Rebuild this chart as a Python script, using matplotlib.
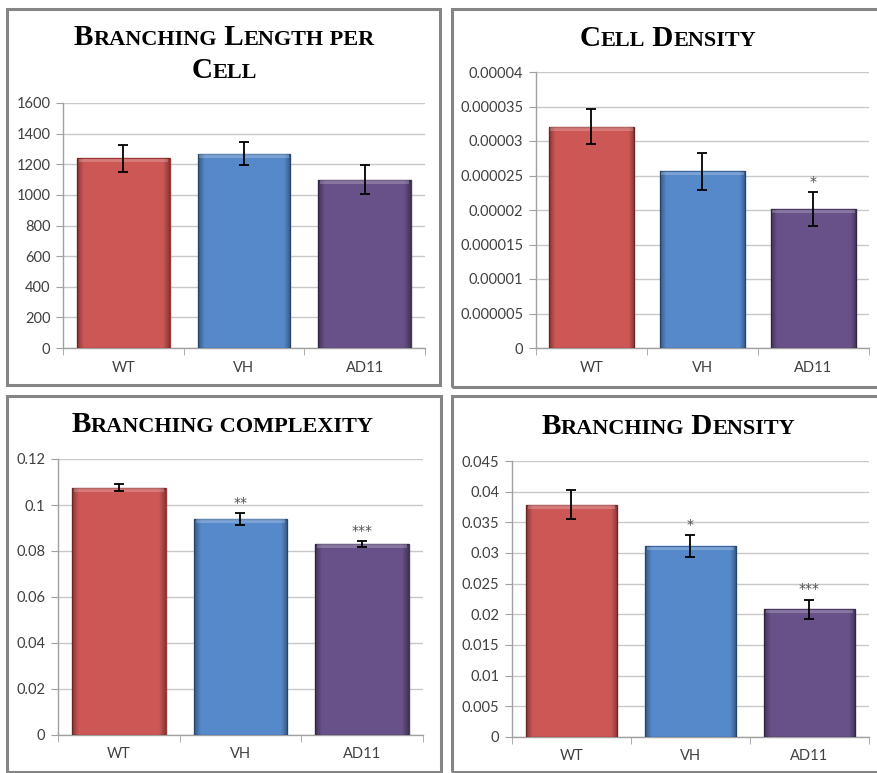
import matplotlib
matplotlib.use("Agg")
import matplotlib.pyplot as plt
import numpy as np
from matplotlib.patches import Rectangle
from matplotlib.offsetbox import TextArea, HPacker, VPacker, AnchoredOffsetbox
from matplotlib.ticker import FuncFormatter, MultipleLocator

W, H = 878, 773
fig = plt.figure(figsize=(W / 100, H / 100), dpi=100)

groups = ["WT", "VH", "AD11"]
colors = ["#cd5755", "#5689ca", "#685188"]
edges = ["#9e3b39", "#3b68a0", "#4b3866"]

# branching length per cell
length_vals = [1240, 1268, 1100]
length_err = [88, 75, 95]
length_stars = ["", "", ""]

# cell density
cell_vals = [3.21e-5, 2.56e-5, 2.01e-5]
cell_err = [2.6e-6, 2.65e-6, 2.45e-6]
cell_stars = ["", "", "*"]

# branching complexity
cplx_vals = [0.1075, 0.0940, 0.0831]
cplx_err = [0.0015, 0.0025, 0.0012]
cplx_stars = ["", "**", "***"]

# branching density
bdens_vals = [0.0379, 0.0311, 0.0208]
bdens_err = [0.0024, 0.0018, 0.0016]
bdens_stars = ["", "*", "***"]

TICK = "#404040"


def fmt(v, pos):
    if abs(v) < 1e-12:
        return "0"
    return "{:.6f}".format(v).rstrip("0").rstrip(".")


def px_rect(x0, y0, x1, y1):
    return [x0 / W, 1 - y1 / H, (x1 - x0) / W, (y1 - y0) / H]


def frame(x0, y0, x1, y1):
    fig.patches.append(Rectangle((x0 / W, 1 - y1 / H), (x1 - x0) / W, (y1 - y0) / H,
                                 transform=fig.transFigure, fill=False,
                                 edgecolor="#858585", linewidth=2.2))


def smallcaps(words, big=21, small=16):
    parts = []
    for i, w in enumerate(words):
        txt = w if i == 0 else " " + w
        props = dict(family="Liberation Serif", weight="bold", color="black")
        if w[0].isupper():
            lead = txt[:txt.index(w[0]) + 1]
            rest = txt[len(lead):]
            parts.append(TextArea(lead, textprops=dict(props, size=big)))
            if rest:
                parts.append(TextArea(rest.upper(), textprops=dict(props, size=small)))
        else:
            parts.append(TextArea(txt.upper(), textprops=dict(props, size=small)))
    return HPacker(children=parts, align="baseline", pad=0, sep=0)


def title(lines, cx, cy):
    rows = [smallcaps(l) for l in lines]
    box = rows[0] if len(rows) == 1 else VPacker(children=rows, align="center", pad=0, sep=5)
    ab = AnchoredOffsetbox(loc="center", child=box, bbox_to_anchor=(cx / W, 1 - cy / H),
                           bbox_transform=fig.transFigure, frameon=False, pad=0, borderpad=0)
    fig.add_artist(ab)


# bevel-like shading overlay (horizontal darkening at edges)
nx = 120
u = np.linspace(0, 1, nx)
edge_a = np.clip(1 - np.minimum(u, 1 - u) / 0.07, 0, 1) * 0.35
shade = np.zeros((1, nx, 4))
shade[0, :, 3] = edge_a


def panel(rect, vals, errs, stars, ymax, step):
    ax = fig.add_axes(px_rect(*rect))
    axh = rect[3] - rect[1]
    x = np.arange(len(groups))
    bars = ax.bar(x, vals, width=0.77, color=colors, edgecolor=edges, linewidth=1.0, zorder=3)
    for b in bars:
        x0, w, h = b.get_x(), b.get_width(), b.get_height()
        im = ax.imshow(shade, extent=(x0, x0 + w, 0, h), aspect="auto", zorder=3.1,
                       interpolation="bilinear")
        im.set_clip_path(b)
        hl = ymax * 4.0 / axh
        ax.add_patch(Rectangle((x0 + w * 0.02, h - hl), w * 0.96, hl * 0.9,
                               facecolor="white", alpha=0.22, linewidth=0, zorder=3.2))
    ax.errorbar(x, vals, yerr=errs, fmt="none", ecolor="black", elinewidth=1.3,
                capsize=3.5, capthick=1.3, zorder=4)
    for xi, v, e, s in zip(x, vals, errs, stars):
        if s:
            ax.text(xi, v + e + ymax * 0.012, s, ha="center", va="bottom",
                    fontsize=10, color="#505050", family="DejaVu Sans")
    ax.set_xlim(-0.5, 2.5)
    ax.set_ylim(0, ymax)
    ax.yaxis.set_major_locator(MultipleLocator(step))
    ax.yaxis.set_major_formatter(FuncFormatter(fmt))
    ax.grid(axis="y", color="#c8c8c8", linewidth=1, zorder=0)
    ax.set_axisbelow(True)
    for s in ["top", "right"]:
        ax.spines[s].set_visible(False)
    for s in ["left", "bottom"]:
        ax.spines[s].set_color("#a0a0a0")
        ax.spines[s].set_linewidth(1)
    ax.set_xticks(x)
    ax.set_xticklabels(groups)
    ax.set_xticks([-0.5, 0.5, 1.5, 2.5], minor=True)
    ax.tick_params(axis="x", which="major", length=0, pad=9, labelsize=10.5, labelcolor=TICK)
    ax.tick_params(axis="x", which="minor", length=5, color="#a0a0a0", direction="out")
    ax.tick_params(axis="y", length=5, color="#a0a0a0", direction="out", pad=4,
                   labelsize=10.5, labelcolor=TICK)
    for lab in ax.get_xticklabels() + ax.get_yticklabels():
        lab.set_family("Lato")
    return ax


frame(7, 9, 440, 385)
frame(452, 9, 880, 387)
frame(7, 396, 441, 772)
frame(452, 396, 880, 772)

panel((63, 103, 425, 348), length_vals, length_err, length_stars, 1600, 200)
panel((536, 72, 869, 348), cell_vals, cell_err, cell_stars, 0.00004, 0.000005)
panel((58, 459, 423, 735), cplx_vals, cplx_err, cplx_stars, 0.12, 0.02)
panel((512, 461, 869, 737), bdens_vals, bdens_err, bdens_stars, 0.045, 0.005)

title([["Branching", "Length", "per"], ["Cell"]], 224, 54)
title([["Cell", "Density"]], 668, 38)
title([["Branching", "complexity"]], 222, 425)
title([["Branching", "Density"]], 668, 426)

fig.savefig("out.png", dpi=100, facecolor="white")
